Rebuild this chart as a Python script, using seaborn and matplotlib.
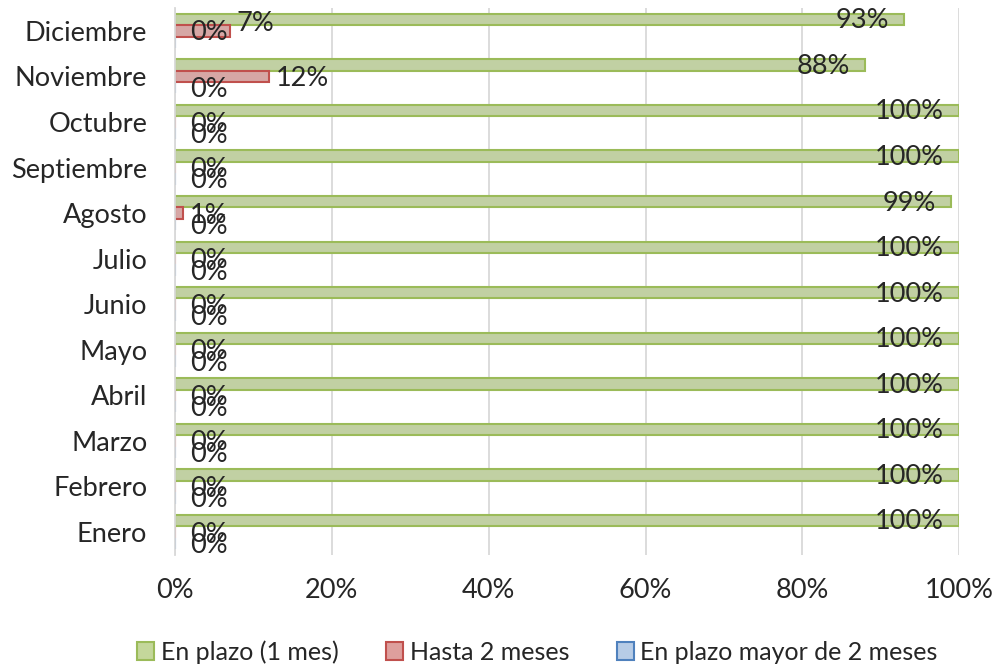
import pandas as pd
import numpy as np
import seaborn as sns
import matplotlib.pyplot as plt
from matplotlib.patches import Patch

meses = ["Enero", "Febrero", "Marzo", "Abril", "Mayo", "Junio", "Julio",
         "Agosto", "Septiembre", "Octubre", "Noviembre", "Diciembre"]
en_plazo = [100, 100, 100, 100, 100, 100, 100, 99, 100, 100, 88, 93]
hasta_2 = [0, 0, 0, 0, 0, 0, 0, 1, 0, 0, 12, 7]
mayor_2 = [0, 0, 0, 0, 0, 0, 0, 0, 0, 0, 0, 0]
series = ["En plazo (1 mes)", "Hasta 2 meses", "En plazo mayor de 2 meses"]

fills = ["#C4D79B", "#DE9F9D", "#B7CCE6"]
edges = ["#9BBB59", "#C0504D", "#4F81BD"]

df = pd.DataFrame({
    "mes": meses * 3,
    "serie": [series[0]] * 12 + [series[1]] * 12 + [series[2]] * 12,
    "valor": en_plazo + hasta_2 + mayor_2,
})
orden = meses[::-1]

sns.set_style("white")
plt.rcParams["font.family"] = ["Lato", "DejaVu Sans"]

fig = plt.figure(figsize=(9.95, 6.7), dpi=100)
ax = fig.add_axes([0.176, 0.172, 0.788, 0.816])

sns.barplot(data=df, x="valor", y="mes", hue="serie", order=orden,
            hue_order=series, palette=fills, orient="h", width=0.75,
            legend=False, ax=ax)

# colour edges per series (containers follow hue order)
for cont, ec in zip(ax.containers, edges):
    for bar in cont:
        bar.set_edgecolor(ec)
        bar.set_linewidth(1.5)

# data labels
for i, cont in enumerate(ax.containers):
    for bar in cont:
        v = bar.get_width()
        yc = bar.get_y() + bar.get_height() / 2
        if i == 0:
            ax.annotate(f"{v:.0f}%", (v, yc), xytext=(-11, -1),
                        textcoords="offset points", ha="right", va="center",
                        fontsize=19.5)
        else:
            dy = -1.5
            # Diciembre labels were nudged upward in the original
            if yc < 0.5:
                dy = 5 if i == 1 else 7
            ax.annotate(f"{v:.0f}%", (max(v, 1.0), yc), xytext=(5, dy),
                        textcoords="offset points", ha="left", va="center",
                        fontsize=19.5)

ax.set_xlim(0, 100)
ax.set_xticks(np.arange(0, 101, 20))
ax.set_xticklabels([f"{t}%" for t in range(0, 101, 20)])
ax.set_xlabel("")
ax.set_ylabel("")
ax.tick_params(axis="x", length=0, pad=17, labelsize=19.5)
ax.tick_params(axis="y", length=0, pad=20, labelsize=19.5)
ax.grid(axis="x", color="#D9D9D9", linewidth=1.3)
ax.set_axisbelow(True)
for s in ["top", "right", "bottom"]:
    ax.spines[s].set_visible(False)
ax.spines["left"].set_color("#D9D9D9")
ax.spines["left"].set_linewidth(1.3)

handles = [Patch(facecolor=f, edgecolor=e, linewidth=1.5) for f, e in zip(fills, edges)]
fig.legend(handles, series, loc="center", bbox_to_anchor=(0.54, 0.027), ncol=3,
           frameon=False, fontsize=18, handlelength=0.7, handleheight=0.7,
           handletextpad=0.25, columnspacing=1.9)

fig.savefig("out.png", dpi=100)
